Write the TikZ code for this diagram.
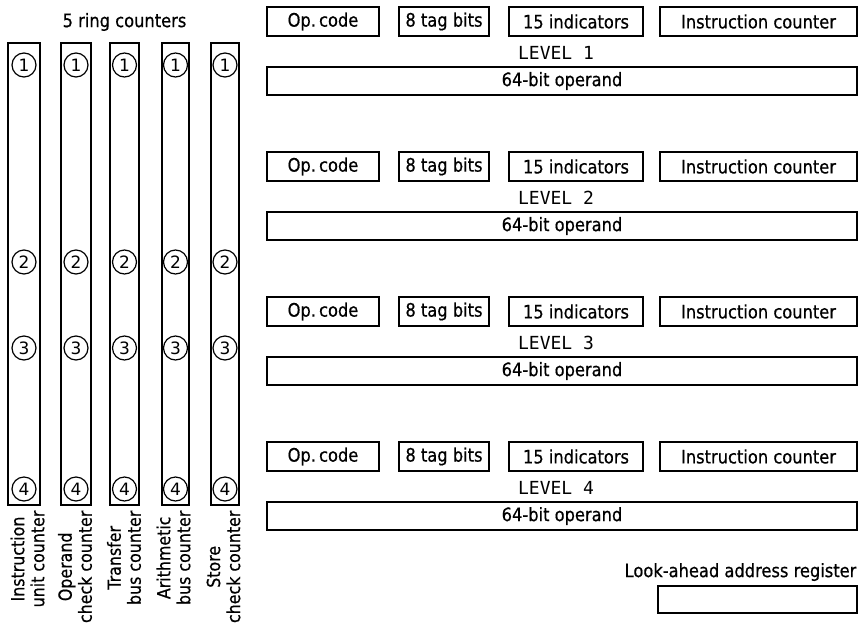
\documentclass[tikz,border=0pt]{standalone}
\usepackage{fontspec}
\setmainfont{DejaVu Sans}[FakeStretch=0.88, FakeBold=0.6]
\newfontfamily\levfont{DejaVu Sans Mono}
\newfontfamily\numfont{DejaVu Sans}
\begin{document}
\begin{tikzpicture}[x=1pt,y=-1pt, line width=1.3pt,
  reg/.style={draw, inner sep=0pt, minimum height=29pt, font=\fontsize{18.5}{20}\selectfont},
  opnd/.style={draw, inner sep=0pt, minimum height=28pt, minimum width=590pt, font=\fontsize{18.5}{20}\selectfont},
  col/.style={draw, inner sep=0pt, minimum height=462pt},
  ring/.style={draw, circle, inner sep=0pt, minimum size=24pt, line width=1.2pt, font=\numfont\fontsize{17}{18}\selectfont},
  clab/.style={rotate=90, anchor=east, align=center, inner sep=0pt, font=\fontsize{18}{20}\selectfont},
  lev/.style={font=\levfont\fontsize{18}{20}\selectfont, inner sep=0pt},
  ttl/.style={font=\fontsize{18.5}{20}\selectfont, inner sep=0pt}]
\useasboundingbox (0,0) rectangle (861,624);

% ring counters
\node[ttl] (title) at (124.5,22) {5 ring counters};
\foreach \k/\x/\w in {1/24/32, 2/76/30, 3/124.5/29, 4/175.5/27, 5/225/28}{
  \node[col, minimum width=\w pt] (c\k) at (\x,274) {};
  \foreach \n/\y in {1/65, 2/262, 3/348, 4/489}{
    \node[ring] (r\k\n) at (\x,\y) {\n};
  }
}
\node[clab] (l1) at (27.5,510) {Instruction\\unit counter};
\node[clab] (l2) at (75,510) {Operand\\check counter};
\node[clab] (l3) at (124,510) {Transfer\\bus counter};
\node[clab] (l4) at (173.5,510) {Arithmetic\\bus counter};
\node[clab] (l5) at (223.5,510) {Store\\check counter};

% levels
\foreach \i/\t in {1/7, 2/152, 3/297, 4/442}{
  \node[reg, minimum width=112pt] (opc\i) at (323,\t+14.5) {Op.\,code};
  \node[reg, minimum width=90pt] (tag\i) at (444,\t+14.5) {8 tag bits};
  \node[reg, minimum width=134pt] (ind\i) at (576,\t+14.5) {15 indicators};
  \node[reg, minimum width=197pt] (ic\i) at (758.5,\t+14.5) {Instruction counter};
  \node[lev] (lv\i) at (556,\t+46) {LEVEL \i};
  \node[opnd] (opd\i) at (562,\t+74) {64-bit operand};
}

% look-ahead register
\node[ttl, anchor=east] (lal) at (857,572) {Look-ahead address register};
\node[draw, inner sep=0pt, minimum width=199pt, minimum height=27pt] (lar) at (757.5,599.5) {};
\end{tikzpicture}
\end{document}
